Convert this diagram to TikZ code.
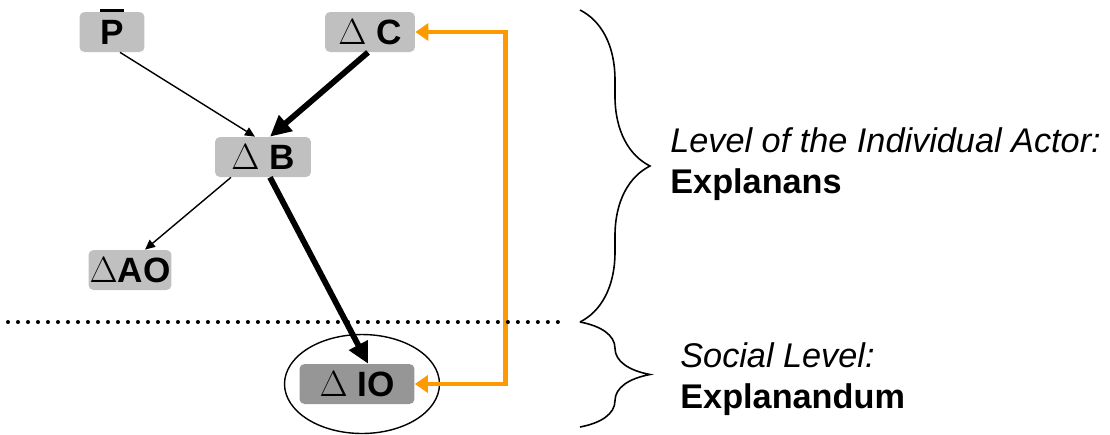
\documentclass[tikz,border=0pt]{standalone}
\usepackage{fontspec}
\setmainfont{Liberation Sans}
\usetikzlibrary{arrows.meta,shapes.geometric,decorations.pathreplacing}
\definecolor{boxgray}{HTML}{C0C0C0}
\definecolor{darkgray}{HTML}{969696}
\definecolor{feedorange}{HTML}{FF9900}
\tikzset{factor/.style = {fill=boxgray, rounded corners=0.1cm, minimum height=0.8cm,
                          inner sep=0pt, font=\fontsize{20}{22}\selectfont\bfseries}}
\tikzset{thinarrow/.style = {line width=0.8pt, -{Triangle[length=0.2cm,width=0.18cm]}}}
\tikzset{thickarrow/.style = {line width=3.3pt, -{Triangle[length=0.42cm,width=0.4cm]}}}
\tikzset{feedback/.style = {draw=feedorange, line width=2.6pt, line cap=rect,
                            {Triangle[length=0.26cm,width=0.34cm]}-{Triangle[length=0.26cm,width=0.34cm]}}}
\tikzset{levelbrace/.style = {line width=0.9pt, decorate, decoration={brace, amplitude=1.4cm}}}
\tikzset{levellabel/.style = {anchor=base west, align=left, inner sep=0pt,
                              font=\fontsize{19.5}{23.3}\selectfont}}
\newcommand{\barP}{\ooalign{P\cr\hidewidth\rule[0.9em]{0.7em}{0.09em}\hidewidth\cr}}

\begin{document}
\begin{tikzpicture}[x=0.02cm, y=-0.02cm]
                    \useasboundingbox (0,0) rectangle (1110,434);

                    \node[factor, minimum width=1.3cm] (P) at (112,32) {\barP};
                    \node[factor, minimum width=1.8cm] (C) at (370,32) {$\Delta$ C};
                    \node[factor, minimum width=1.92cm] (B) at (263,157) {$\Delta$ B};
                    \node[factor, minimum width=1.66cm] (AO) at (130,270) {$\Delta$AO};
                    \node[factor, fill=darkgray, minimum width=2.3cm] (IO) at (357,384) {$\Delta$ IO};
                    \node[ellipse, draw, line width=0.8pt, minimum width=3.1cm, minimum height=1.98cm] (ring) at (362,384) {};

                    \coordinate (divL) at (8,322);
                    \coordinate (divR) at (565,322);
                    \coordinate (topL) at (580,10);
                    \coordinate (midL) at (580,322);
                    \coordinate (botL) at (580,427);

                    \node[levellabel] (indiv) at (670,193) {\itshape Level of the Individual Actor:\\\bfseries Explanans};
                    \node[levellabel] (social) at (680,408) {\itshape Social Level:\\\bfseries Explanandum};

                    \draw[thinarrow] ([xshift=0.16cm]P.south) -- ([xshift=-0.16cm]B.north);
                    \draw[thickarrow] ([xshift=-0.04cm]C.south) -- ([xshift=0.14cm]B.north);
                    \draw[thinarrow] ([xshift=-0.64cm]B.south) -- ([xshift=0.3cm]AO.north);
                    \draw[thickarrow] ([xshift=0.14cm]B.south) -- ([xshift=0.22cm]IO.north);
                    \draw[feedback] (C.east) -- ++(90,0) |- (IO.east);

                    \draw[line width=2.3pt, line cap=round, dash pattern=on 0pt off 0.2cm] (divL) -- (divR);
                    \draw[levelbrace] (topL) -- (midL);
                    \draw[levelbrace] (midL) -- (botL);
                \end{tikzpicture}
\end{document}
